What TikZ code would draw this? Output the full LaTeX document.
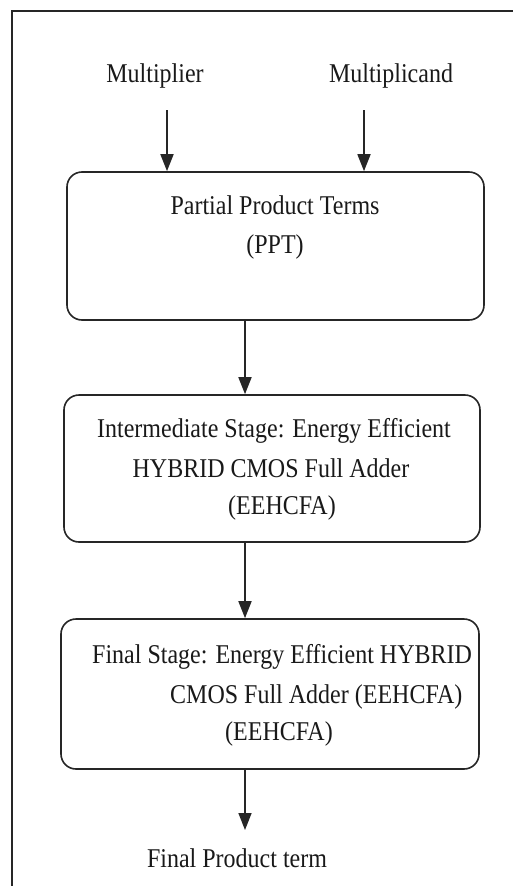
\documentclass[tikz,border=0pt]{standalone}
\usepackage{fontspec}
\usepackage{graphicx}
\setmainfont{Liberation Serif}
\usetikzlibrary{arrows.meta}
\newcommand\vstretch[1]{\scalebox{1}[1.13]{#1}}
\begin{document}
\begin{tikzpicture}[x=1pt,y=-1pt,
  box/.style={draw=black!85, line width=1.6pt, rounded corners=15pt, inner sep=0pt},
  lbl/.style={inner sep=0pt, anchor=base, font=\fontsize{24}{38}\selectfont, text=black!90},
  arr/.style={draw=black!85, line width=1.6pt, -{Triangle[width=13pt,length=17pt]}}]
\useasboundingbox (0,0) rectangle (513,886);
\fill[white] (0,0) rectangle (513,886);
% outer frame (only left and top edges visible)
\draw[black!85, line width=2pt] (12,886) -- (12,11) -- (513,11);
% inputs
\node[lbl] (mult) at (155,82) {\vstretch{Multiplier}};
\node[lbl] (mcand) at (391,82) {\vstretch{Multiplicand}};
% boxes
\node[box, minimum width=417pt, minimum height=148pt] (ppt) at (275.5,246) {};
\node[box, minimum width=416pt, minimum height=147pt] (inter) at (272,468.5) {};
\node[box, minimum width=418pt, minimum height=150pt] (final) at (270,694) {};
% box texts
\node[lbl] (ppt1) at (275,214) {\vstretch{Partial Product Terms}};
\node[lbl] (ppt2) at (275,253) {\vstretch{(PPT)}};
\node[lbl] (int1) at (274,437) {\vstretch{Intermediate Stage: Energy Efficient}};
\node[lbl] (int2) at (271,477) {\vstretch{HYBRID CMOS Full Adder}};
\node[lbl] (int3) at (282,514) {\vstretch{(EEHCFA)}};
\node[lbl, anchor=base west] (fin1) at (92,663) {\vstretch{Final Stage: Energy Efficient HYBRID}};
\node[lbl, anchor=base west] (fin2) at (170,703) {\vstretch{CMOS Full Adder (EEHCFA)}};
\node[lbl, anchor=base west] (fin3) at (225,740) {\vstretch{(EEHCFA)}};
\node[lbl] (out) at (237,867) {\vstretch{Final Product term}};
% connectors
\coordinate (a1) at (167,110);
\coordinate (a2) at (364,110);
\draw[arr] (a1) -- (a1 |- ppt.north);
\draw[arr] (a2) -- (a2 |- ppt.north);
\coordinate (c1) at (245,320);
\draw[arr] (c1) -- (c1 |- inter.north);
\coordinate (c2) at (245,542);
\draw[arr] (c2) -- (c2 |- final.north);
\coordinate (c3) at (245,769);
\coordinate (c4) at (245,830);
\draw[arr] (c3) -- (c4);
\end{tikzpicture}
\end{document}
